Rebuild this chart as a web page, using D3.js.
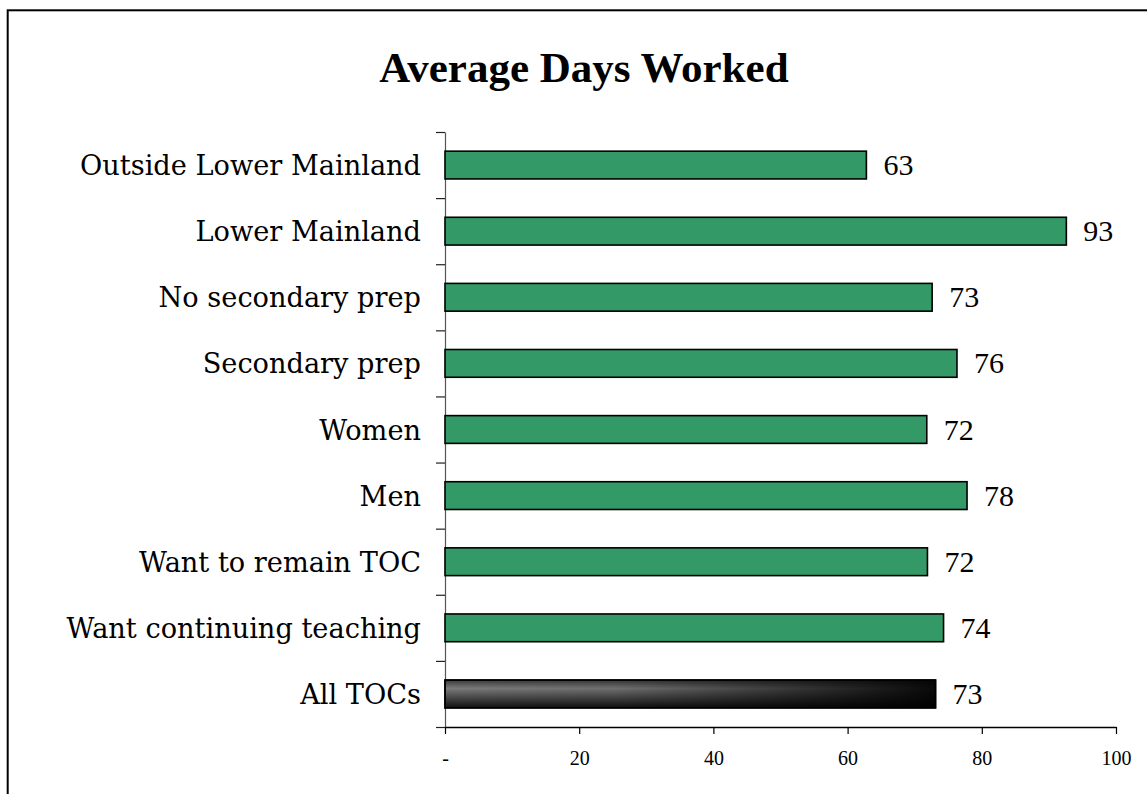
<!DOCTYPE html>
<html>
<head>
<meta charset="utf-8">
<script src="https://cdn.jsdelivr.net/npm/d3@7"></script>
<style>
  body { margin: 0; background: #fff; }
  svg { display: block; }
</style>
</head>
<body>
<div id="chart"></div>
<script>
// Chart data
const categories = ["Outside Lower Mainland", "Lower Mainland", "No secondary prep",
                    "Secondary prep", "Women", "Men", "Want to remain TOC",
                    "Want continuing teaching", "All TOCs"];
const daysWorked = [62.8, 92.6, 72.6, 76.3, 71.8, 77.8, 71.9, 74.3, 73.1];
const xTicks = [0, 20, 40, 60, 80, 100];

const W = 1147, H = 794;
const margin = { top: 132, left: 445, right: 31, bottom: 67 };
const plotW = W - margin.left - margin.right;
const plotH = H - margin.top - margin.bottom;

const svg = d3.select("#chart").append("svg")
    .attr("width", W)
    .attr("height", H);

// outer frame (runs off the right and bottom edges)
svg.append("rect")
    .attr("x", 7.7).attr("y", 10.3)
    .attr("width", W + 20).attr("height", H + 20)
    .attr("fill", "none")
    .attr("stroke", "#000")
    .attr("stroke-width", 2);

// gradient for the "All TOCs" bar
const defs = svg.append("defs");
const gv = defs.append("linearGradient").attr("id", "gVert")
    .attr("x1", 0).attr("y1", 0).attr("x2", 0).attr("y2", 1);
gv.append("stop").attr("offset", "0%").attr("stop-color", "#3a3a3a");
gv.append("stop").attr("offset", "30%").attr("stop-color", "#7a7a7a");
gv.append("stop").attr("offset", "100%").attr("stop-color", "#101010");
const gh = defs.append("linearGradient").attr("id", "gHorz")
    .attr("x1", 0).attr("y1", 0).attr("x2", 1).attr("y2", 0);
gh.append("stop").attr("offset", "0%").attr("stop-color", "#000").attr("stop-opacity", 0);
gh.append("stop").attr("offset", "35%").attr("stop-color", "#000").attr("stop-opacity", 0.1);
gh.append("stop").attr("offset", "100%").attr("stop-color", "#000").attr("stop-opacity", 0.92);

const g = svg.append("g")
    .attr("transform", `translate(${margin.left},${margin.top})`);

// Scales
const x = d3.scaleLinear().domain([0, 100]).range([0, plotW]);
const yBand = d3.scaleBand().domain(categories).range([0, plotH]).padding(0);
const yIdx = d3.scaleLinear().domain([0, categories.length]).range([0, plotH]);

const barH = yBand.bandwidth() * 0.42;
const barOff = (yBand.bandwidth() - barH) / 2;

// Title
svg.append("text")
    .attr("x", 584)
    .attr("y", 82)
    .attr("text-anchor", "middle")
    .style("font-family", "'Liberation Serif', 'Times New Roman', serif")
    .style("font-weight", "bold")
    .style("font-size", "43px")
    .text("Average Days Worked");

// Y axis, ticks on the category boundaries
const yAxis = g.append("g")
    .call(d3.axisLeft(yIdx)
        .tickValues(d3.range(categories.length + 1))
        .tickSize(9)
        .tickSizeOuter(0)
        .tickFormat(""));
yAxis.select(".domain").attr("stroke", "#555").attr("stroke-width", 1.2);
yAxis.selectAll(".tick line").attr("stroke", "#222").attr("stroke-width", 1.2);

// X axis
const xAxis = g.append("g")
    .attr("transform", `translate(0,${plotH})`)
    .call(d3.axisBottom(x)
        .tickValues(xTicks)
        .tickSize(7)
        .tickSizeOuter(0)
        .tickFormat(d => d === 0 ? "-" : d));
xAxis.select(".domain").attr("stroke", "#000").attr("stroke-width", 1.5);
xAxis.selectAll(".tick line").attr("stroke", "#000").attr("stroke-width", 1.2);
xAxis.selectAll(".tick text")
    .attr("y", 38)
    .attr("dy", 0)
    .style("font-family", "'Liberation Serif', 'Times New Roman', serif")
    .style("font-size", "20px")
    .attr("fill", "#000");

// Bars
g.selectAll(".bar")
    .data(categories)
    .enter().append("rect")
    .attr("class", "bar")
    .attr("x", 0)
    .attr("y", d => yBand(d) + barOff)
    .attr("width", (d, i) => x(daysWorked[i]))
    .attr("height", barH)
    .attr("fill", d => d === "All TOCs" ? "url(#gVert)" : "#339966")
    .attr("stroke", "#000")
    .attr("stroke-width", 1.6);

// horizontal darkening overlay on the total bar
const last = categories[categories.length - 1];
g.append("rect")
    .attr("x", 0)
    .attr("y", yBand(last) + barOff)
    .attr("width", x(daysWorked[daysWorked.length - 1]))
    .attr("height", barH)
    .attr("fill", "url(#gHorz)")
    .attr("stroke", "#000")
    .attr("stroke-width", 1.6);

// Value labels
g.selectAll(".val")
    .data(categories)
    .enter().append("text")
    .attr("class", "val")
    .attr("x", (d, i) => x(daysWorked[i]) + 17)
    .attr("y", d => yBand(d) + yBand.bandwidth() / 2 + 10)
    .style("font-family", "'Liberation Serif', 'Times New Roman', serif")
    .style("font-size", "30px")
    .text((d, i) => Math.round(daysWorked[i]));

// Category labels
g.selectAll(".cat")
    .data(categories)
    .enter().append("text")
    .attr("class", "cat")
    .attr("x", -24)
    .attr("y", d => yBand(d) + yBand.bandwidth() / 2 + 10)
    .attr("text-anchor", "end")
    .style("font-family", "'DejaVu Serif', serif")
    .style("font-size", "27.2px")
    .text(d => d);
</script>
</body>
</html>
